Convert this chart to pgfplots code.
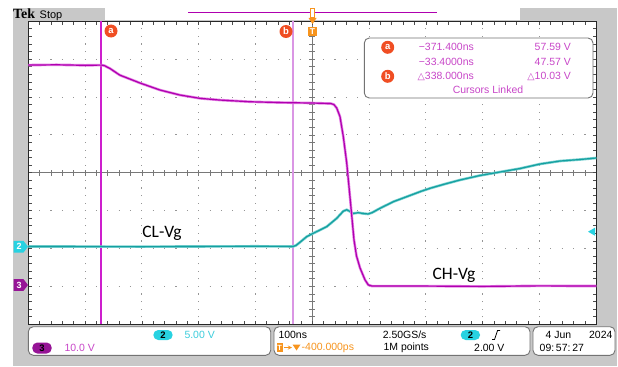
\documentclass[border=0pt]{standalone}
\usepackage{pgfplots}
\pgfplotsset{compat=1.18}
\usepackage{pgfplotstable}
\usepackage{fontspec}
\setmainfont{Liberation Sans}
\newfontfamily\dejavu{DejaVu Sans}
\newfontfamily\carlito{Carlito}
\newfontfamily\tekserif{Liberation Serif}
\definecolor{scgray}{RGB}{200,200,200}
\definecolor{trpurple}{RGB}{175,0,175}
\definecolor{trpurplel}{RGB}{228,130,228}
\definecolor{trcyan}{RGB}{20,160,160}
\definecolor{trcyanl}{RGB}{120,208,208}
\definecolor{magcursor}{RGB}{205,30,205}
\definecolor{pinkcursor}{RGB}{218,150,228}
\definecolor{readout}{RGB}{200,70,200}
\definecolor{tekorange}{RGB}{247,148,29}
\definecolor{tekred}{RGB}{240,78,35}
\definecolor{badgecyan}{RGB}{40,210,225}
\definecolor{textcyan}{RGB}{60,205,220}
\definecolor{badgepurple}{RGB}{150,20,150}
\definecolor{gridgray}{RGB}{150,150,150}
\definecolor{centergray}{RGB}{120,120,120}

% CH3 (purple): time in ns, level in divisions from screen centre
\pgfplotstableread{
t v
-500 2.844
-450 2.852
-400 2.838
-371 2.844
-366 2.830
-356 2.752
-339 2.580
-303 2.369
-268 2.185
-233 2.053
-198 1.966
-163 1.921
-110 1.876
-57 1.855
1 1.842
33 1.828
38 1.802
43 1.710
48.8 1.480
54.6 0.953
60.6 0.259
64.6 -0.367
69.0 -1.061
73.4 -1.773
77.8 -2.195
84.0 -2.512
92.8 -2.828
98.6 -2.960
105 -2.990
190 -2.990
300 -3.000
400 -2.985
500 -2.990
}\purpledata

% CH2 (cyan)
\pgfplotstableread{
t v
-500 -1.945
-300 -1.950
-100 -1.940
-34 -1.945
-28.7 -1.918
-21.7 -1.834
-9.9 -1.686
1.8 -1.596
25.4 -1.422
43.0 -1.201
54.6 -1.013
60.6 -0.976
66.4 -1.021
71.7 -1.074
81.0 -1.053
89.3 -1.074
98.1 -1.087
105.1 -1.053
119.2 -0.937
142.6 -0.763
166.2 -0.631
189.6 -0.499
207.2 -0.409
233.6 -0.296
260.0 -0.190
295.2 -0.071
330.5 0.021
365.7 0.113
400.9 0.232
436.1 0.311
471.3 0.351
500 0.391
}\cyandata

\newcommand{\scfont}{\fontsize{10.5}{12}\selectfont}

\begin{document}
\begin{tikzpicture}[x=1bp,y=1bp]
\path[use as bounding box] (0,0) rectangle (618,366);
\fill[white] (0,0) rectangle (618,366);
\fill[scgray] (12.5,0) rectangle (617,358);
\fill[white] (28.3,41.7) rectangle (596.3,344.7);
\fill[white] (105,346) rectangle (520,358);
\draw[trpurple, line width=1bp] (188,353) -- (437,353);
\node[font=\tekserif\bfseries\fontsize{14}{16}\selectfont, anchor=base west, inner sep=0] at (13,348) {Tek};
\node[font=\fontsize{11}{13}\selectfont, anchor=base west, inner sep=0] at (39.5,348) {Stop};

% graticule
\foreach \i in {1,2,3,4,6,7,8,9} {
  \draw[gridgray, line width=1.1bp, dash pattern=on 1.1bp off 6.475bp, dash phase=0.55bp] ({28.3+\i*56.8},41.7) -- ({28.3+\i*56.8},344.7);
}
\foreach \j in {1,2,3,5,6,7} {
  \draw[gridgray, line width=1.1bp, dash pattern=on 1.1bp off 10.26bp, dash phase=0.55bp] (28.3,{41.7+\j*37.875}) -- (596.3,{41.7+\j*37.875});
}
\draw[centergray, line width=1.3bp] (312.3,41.7) -- (312.3,344.7);
\draw[centergray, line width=1.3bp] (28.3,193.2) -- (596.3,193.2);
\foreach \k in {1,...,39} {
  \draw[centergray, line width=0.8bp] (309.3,{41.7+\k*7.575}) -- (315.3,{41.7+\k*7.575});
}
\foreach \k in {1,...,49} {
  \draw[centergray, line width=0.8bp] ({28.3+\k*11.36},190.2) -- ({28.3+\k*11.36},196.2);
}

\begin{axis}[
  at={(28.3bp,41.7bp)}, anchor=south west,
  width=568bp, height=303bp, scale only axis,
  xmin=-500, xmax=500, ymin=-4, ymax=4,
  xtick={-500,-400,...,500}, ytick={-4,-3,...,4},
  minor x tick num=4, minor y tick num=4,
  xticklabels={}, yticklabels={},
  tick align=inside,
  major tick length=3.5bp, minor tick length=3.5bp,
  tick style={black!70, line width=0.8bp},
  axis line style={black!85, line width=1.3bp},
  clip=true,
]
\addplot[draw=pinkcursor, line width=1.8bp] coordinates {(-33.4,-4) (-33.4,4)};
\addplot[draw=magcursor, line width=1.8bp] coordinates {(-371.4,-4) (-371.4,4)};
\addplot[draw=trcyanl, line width=2.6bp] table[x=t,y=v] {\cyandata};
\addplot[draw=trcyan, line width=1.2bp] table[x=t,y=v] {\cyandata};
\addplot[draw=trpurplel, line width=2.6bp] table[x=t,y=v] {\purpledata};
\addplot[draw=trpurple, line width=1.2bp] table[x=t,y=v] {\purpledata};
\end{axis}

% labels
\node[font=\carlito\fontsize{17.5}{20}\selectfont] at (162,132.5) {CL-Vg};
\node[font=\carlito\fontsize{17.5}{20}\selectfont] at (454,90.5) {CH-Vg};

% channel tags
\fill[badgecyan] (13.5,113.5) -- (23.5,113.5) -- (28,119.3) -- (23.5,125.1) -- (13.5,125.1) -- cycle;
\node[white, font=\bfseries\fontsize{9}{10}\selectfont, inner sep=0] at (19,119.3) {2};
\fill[badgepurple] (13.5,75.2) -- (23.5,75.2) -- (28,81) -- (23.5,86.8) -- (13.5,86.8) -- cycle;
\node[white, font=\bfseries\fontsize{9}{10}\selectfont, inner sep=0] at (19,81) {3};
\fill[badgecyan] (588,134.3) -- (595,138.3) -- (595,130.3) -- cycle;

% cursor marks
\fill[tekred] (111,335) circle (6.5);
\node[white, font=\bfseries\fontsize{9.5}{10}\selectfont, inner sep=0] at (111,335) {a};
\fill[tekred] (286,334.5) circle (6.5);
\node[white, font=\bfseries\fontsize{9.5}{10}\selectfont, inner sep=0] at (286,334.5) {b};
% trigger marker
\fill[tekorange] (308,330) rectangle (317,339);
\node[white, font=\bfseries\fontsize{8.5}{10}\selectfont, inner sep=0] at (312.5,334.5) {T};
\draw[tekorange, line width=1bp, fill=white] (310.8,348) rectangle (314.2,357);
\fill[tekorange] (308.5,348) -- (316.5,348) -- (312.5,342) -- cycle;

% cursor readout
\draw[black!55, line width=0.9bp, rounded corners=5bp, fill=white] (364.3,268) rectangle (593,328);
\fill[tekred] (387.7,318.7) circle (6.5);
\node[white, font=\bfseries\fontsize{9.5}{10}\selectfont, inner sep=0] at (387.7,318.7) {a};
\fill[tekred] (387.7,289.7) circle (6.5);
\node[white, font=\bfseries\fontsize{9.5}{10}\selectfont, inner sep=0] at (387.7,289.7) {b};
\begin{scope}[every node/.style={readout, font=\scfont, inner sep=0}]
\node[anchor=east] at (474,318.7) {−371.400ns};
\node[anchor=east] at (571,318.7) {57.59 V};
\node[anchor=east] at (474,304.3) {−33.4000ns};
\node[anchor=east] at (571,304.3) {47.57 V};
\node[anchor=east] at (474,290) {{\dejavu\fontsize{9.5}{10}\selectfont △}338.000ns};
\node[anchor=east] at (571,290) {{\dejavu\fontsize{9.5}{10}\selectfont △}10.03 V};
\node at (488,276) {Cursors Linked};
\end{scope}

% bottom panels
\draw[black!55, line width=0.9bp, rounded corners=5bp, fill=white] (28.3,10.7) rectangle (270.7,39.3);
\draw[black!55, line width=0.9bp, rounded corners=5bp, fill=white] (274,10.7) rectangle (530,39.3);
\draw[black!55, line width=0.9bp, rounded corners=5bp, fill=white] (533,10.7) rectangle (615,39.3);

\fill[badgecyan, rounded corners=5bp] (153.3,26) rectangle (172.7,36);
\node[font=\bfseries\fontsize{9.5}{10}\selectfont, inner sep=0] at (163,31) {2};
\node[textcyan, font=\scfont, anchor=west, inner sep=0] at (184.3,31) {5.00 V};
\fill[badgepurple, rounded corners=5bp] (32.3,12.5) rectangle (51.7,23.5);
\node[font=\bfseries\fontsize{9.5}{10}\selectfont, inner sep=0] at (42,18) {3};
\node[readout, font=\scfont, anchor=west, inner sep=0] at (64.3,18) {10.0 V};

\node[font=\scfont, anchor=west, inner sep=0] at (278.3,31) {100ns};
\node[font=\scfont, anchor=west, inner sep=0] at (382.6,31) {2.50GS/s};
\fill[badgecyan, rounded corners=5bp] (460.7,26) rectangle (480.1,36);
\node[font=\bfseries\fontsize{9.5}{10}\selectfont, inner sep=0] at (470.4,31) {2};
\draw[black, line width=0.8bp] (492,26.5) -- (494.5,26.5) -- (497.5,35.5) -- (500,35.5);
\fill[tekorange] (276.7,14) rectangle (282.7,23);
\node[white, font=\bfseries\fontsize{7.5}{8}\selectfont, inner sep=0] at (279.7,18.5) {T};
\draw[tekorange, line width=0.9bp, -stealth] (284,18.5) -- (292,18.5);
\fill[tekorange] (292.5,21.5) -- (300.5,21.5) -- (296.5,15.5) -- cycle;
\node[tekorange, font=\scfont, anchor=west, inner sep=0] at (301.5,18) {-400.000ps};
\node[font=\scfont, anchor=west, inner sep=0] at (383.4,18) {1M points};
\node[font=\scfont, anchor=west, inner sep=0] at (474,18) {2.00 V};

\node[font=\scfont, anchor=west, inner sep=0] at (545.5,31) {4 Jun};
\node[font=\scfont, anchor=east, inner sep=0] at (612.6,31) {2024};
\node[font=\scfont, anchor=west, inner sep=0] at (539.5,18) {09:\,57:\,27};
\end{tikzpicture}
\end{document}
